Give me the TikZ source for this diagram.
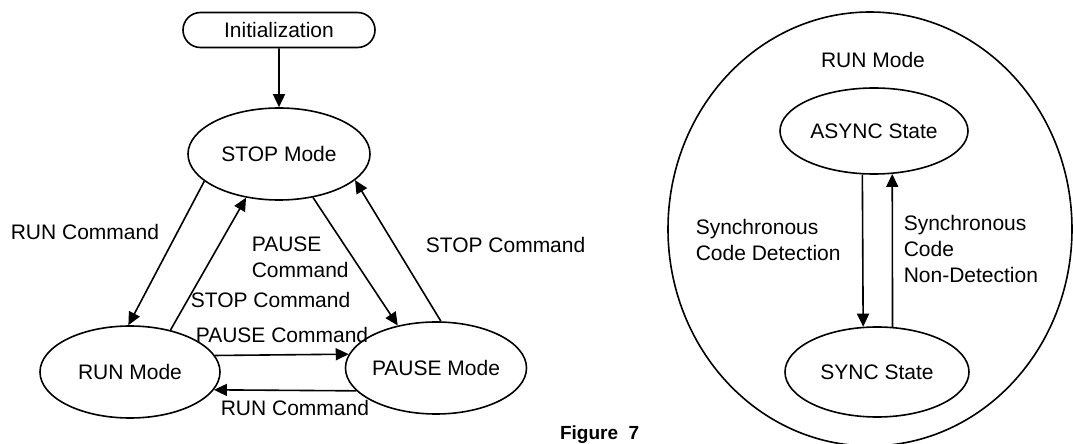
\documentclass[tikz,border=0pt]{standalone}
\usepackage{fontspec}
\setmainfont{Liberation Sans}
\usetikzlibrary{shapes.geometric,shapes.misc,arrows.meta}
\begin{document}
\begin{tikzpicture}[x=0.5pt,y=-0.5pt,
  font=\fontsize{10.5}{13}\selectfont,
  every node/.style={inner sep=0pt},
  oval/.style={draw,ellipse,line width=0.8pt},
  lbl/.style={anchor=west,align=left},
  arr/.style={line width=0.8pt,-{Triangle[length=6.5pt,width=6pt]}},
  line width=0.8pt]
\useasboundingbox (0,0) rectangle (1073,444);
\begin{scope}
\clip (0,0) rectangle (1073,444);
% left diagram
\node[draw,rounded rectangle,minimum width=96pt,minimum height=17.5pt] (init) at (279,30) {Initialization};
\node[oval,minimum width=91pt,minimum height=46pt] (stop) at (279,154) {STOP Mode};
\node[oval,minimum width=90pt,minimum height=46pt] (run) at (130,372) {RUN Mode};
\node[oval,minimum width=87pt,minimum height=46pt] (pause) at (436,368) {PAUSE Mode};
\draw[arr] (init) -- (stop);
\draw[arr] (stop.200) -- (run.92);
\draw[arr] (run.46) -- (stop.233);
\draw[arr] (stop.308) -- (pause.132);
\draw[arr] (pause.84) -- (stop.341);
\draw[arr] (run.11.6) -- (pause.171);
\draw[arr] (pause.196) -- (run.-12);
\node[lbl] (l1) at (10,232) {RUN Command};
\node[lbl] (l2) at (251,257) {PAUSE\\Command};
\node[lbl] (l3) at (190,300) {STOP Command};
\node[lbl] (l4) at (195,335) {PAUSE Command};
\node[lbl] (l5) at (220,408) {RUN Command};
\node[lbl] (l6) at (425,245) {STOP Command};
\node[anchor=east,font=\fontsize{9.5}{11}\selectfont\bfseries] (fig) at (640,435) {Figure\ \ 7};
% right diagram
\node[oval,minimum width=202pt,minimum height=217pt] (big) at (870,229) {};
\node (bigl) at (873,60) {RUN Mode};
\node[oval,minimum width=94pt,minimum height=43pt] (async) at (874,131) {ASYNC State};
\node[oval,minimum width=92pt,minimum height=45pt] (sync) at (877,372) {SYNC State};
\draw[arr] (async.255) -- (sync.107.6);
\draw[arr] (sync.71) -- (async.293);
\node[lbl] (r1) at (695,240) {Synchronous\\Code Detection};
\node[lbl] (r2) at (903,249) {Synchronous\\Code\\Non-Detection};
\end{scope}
\end{tikzpicture}
\end{document}
